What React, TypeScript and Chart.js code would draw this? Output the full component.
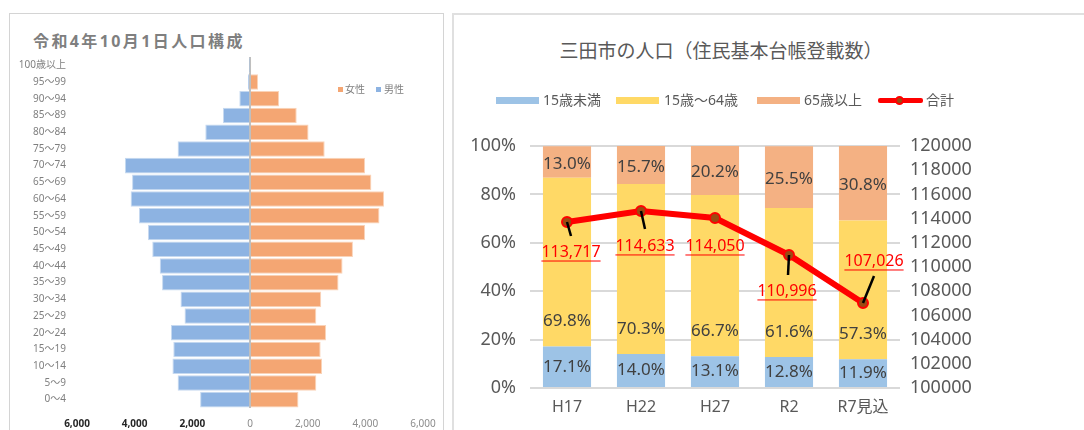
import React, { useEffect, useRef } from 'react';
import { Chart, registerables } from 'chart.js';

Chart.register(...registerables);

const FONT = '"Noto Sans", "Noto Sans CJK JP", sans-serif';

// ---------- Left: population pyramid ----------
const ageGroups = ['100歳以上', '95～99', '90～94', '85～89', '80～84', '75～79', '70～74', '65～69', '60～64', '55～59', '50～54', '45～49', '40～44', '35～39', '30～34', '25～29', '20～24', '15～19', '10～14', '5～9', '0～4'];
const male = [10, 70, 370, 940, 1550, 2510, 4340, 4090, 4140, 3850, 3540, 3390, 3130, 3050, 2410, 2270, 2740, 2660, 2690, 2510, 1730];
const female = [40, 280, 1010, 1620, 2030, 2590, 3990, 4210, 4650, 4490, 3990, 3570, 3210, 3070, 2470, 2300, 2640, 2450, 2500, 2300, 1680];
const pyramidMin = -6000;
const pyramidMax = 6000;
const pyramidStep = 2000;

// ---------- Right: population composition ----------
const years = ['H17', 'H22', 'H27', 'R2', 'R7見込'];
const under15 = [17.1, 14.0, 13.1, 12.8, 11.9];
const age15to64 = [69.8, 70.3, 66.7, 61.6, 57.3];
const over65 = [13.0, 15.7, 20.2, 25.5, 30.8];
const totals = [113717, 114633, 114050, 110996, 107026];
const seriesNames = ['15歳未満', '15歳～64歳', '65歳以上', '合計'];
const percentTicks = { min: 0, max: 100, step: 20 };
const totalTicks = { min: 100000, max: 120000, step: 2000 };

// label placement (pixel offsets from the point), styling only
const totalLabelOffsets = [[4, 30], [4, 35], [0, 28], [-2, 36], [11, -42]];
const leaderEnds: (number[] | null)[] = [[4, 14], [4, 18], null, [-1, 20], [11, -27]];

const COLORS = {
  male: '#8DB3E2',
  maleBorder: '#C6D9F0',
  female: '#F4A673',
  femaleBorder: '#FAD3B8',
  blue: '#9DC3E6',
  yellow: '#FFD966',
  orange: '#F4B183',
  red: '#FF0000',
  marker: '#9C4A12',
};

function Pyramid() {
  const ref = useRef<HTMLCanvasElement>(null);
  useEffect(() => {
    const chart = new Chart(ref.current!, {
      type: 'bar',
      data: {
        labels: ageGroups,
        datasets: [
          {
            label: '男性',
            data: male.map((v) => -v),
            backgroundColor: COLORS.male,
            borderColor: COLORS.maleBorder,
            borderWidth: 1,
            barPercentage: 0.93,
            categoryPercentage: 1,
          },
          {
            label: '女性',
            data: female,
            backgroundColor: COLORS.female,
            borderColor: COLORS.femaleBorder,
            borderWidth: 1,
            barPercentage: 0.93,
            categoryPercentage: 1,
          },
        ],
      },
      options: {
        indexAxis: 'y',
        animation: false,
        responsive: false,
        maintainAspectRatio: false,
        layout: { padding: { left: 0, right: 22, top: 57, bottom: 0 } },
        plugins: { legend: { display: false }, tooltip: { enabled: false } },
        scales: {
          x: {
            stacked: true,
            min: pyramidMin,
            max: pyramidMax,
            z: 1,
            ticks: {
              stepSize: pyramidStep,
              autoSkip: false,
              maxRotation: 0,
              padding: 10,
              callback: (v: any) => Math.abs(Number(v)).toLocaleString('en-US'),
              color: (ctx: any) => (ctx.tick && ctx.tick.value < 0 ? '#262626' : '#8C8C8C'),
              font: (ctx: any) => ({ family: FONT, size: 10, weight: ctx.tick && ctx.tick.value < 0 ? 'bold' : 'normal' }),
            },
            grid: {
              color: (ctx: any) => (ctx.tick && ctx.tick.value === 0 ? '#BFBFBF' : 'rgba(0,0,0,0)'),
              lineWidth: 2,
              drawTicks: false,
            },
            border: { display: false },
            afterFit: (s: any) => {
              s.height = 22;
              s.paddingLeft = 0;
              s.paddingRight = 0;
            },
          },
          y: {
            stacked: true,
            ticks: { color: '#7F7F7F', font: { family: FONT, size: 10 }, padding: 11, autoSkip: false },
            grid: { display: false, drawTicks: false },
            border: { display: false },
            afterFit: (s: any) => {
              s.width = 77;
              s.paddingTop = 0;
              s.paddingBottom = 0;
            },
          },
        },
      } as any,
    });
    return () => chart.destroy();
  }, []);
  return <canvas ref={ref} width={445} height={430} style={{ position: 'absolute', left: 0, top: 0, display: 'block' }} />;
}

const labelPlugin = {
  id: 'customLabels',
  afterDatasetsDraw(chart: any) {
    const ctx = chart.ctx as CanvasRenderingContext2D;
    const series = [under15, age15to64, over65];
    ctx.save();
    ctx.textAlign = 'center';
    ctx.textBaseline = 'middle';
    ctx.font = `17px ${FONT}`;
    ctx.fillStyle = '#404040';
    for (let d = 0; d < 3; d++) {
      const meta = chart.getDatasetMeta(d);
      meta.data.forEach((bar: any, i: number) => {
        const p = bar.getProps(['x', 'y', 'base'], true);
        let cy = (p.y + p.base) / 2;
        if (d === 1) cy = p.base - 25;
        if (d === 2) cy += 2;
        ctx.fillText(series[d][i].toFixed(1) + '%', p.x, cy);
      });
    }
    const lineMeta = chart.getDatasetMeta(3);
    lineMeta.data.forEach((pt: any, i: number) => {
      const { x, y } = pt.getProps(['x', 'y'], true);
      const le = leaderEnds[i];
      if (le) {
        ctx.strokeStyle = '#000000';
        ctx.lineWidth = 2.5;
        ctx.beginPath();
        ctx.moveTo(x, y);
        ctx.lineTo(x + le[0], y + le[1]);
        ctx.stroke();
      }
      const [dx, dy] = totalLabelOffsets[i];
      const lx = x + dx;
      const ly = y + dy;
      const text = totals[i].toLocaleString('en-US');
      ctx.font = `16px ${FONT}`;
      ctx.fillStyle = COLORS.red;
      ctx.fillText(text, lx, ly);
      const w = ctx.measureText(text).width;
      ctx.strokeStyle = COLORS.red;
      ctx.lineWidth = 1;
      ctx.beginPath();
      ctx.moveTo(lx - w / 2, ly + 9);
      ctx.lineTo(lx + w / 2, ly + 9);
      ctx.stroke();
    });
    ctx.restore();
  },
};

function Composition() {
  const ref = useRef<HTMLCanvasElement>(null);
  useEffect(() => {
    const chart = new Chart(ref.current!, {
      data: {
        labels: years,
        datasets: [
          { type: 'bar', label: seriesNames[0], data: under15, backgroundColor: COLORS.blue, order: 1, yAxisID: 'y', categoryPercentage: 0.65, barPercentage: 1 },
          { type: 'bar', label: seriesNames[1], data: age15to64, backgroundColor: COLORS.yellow, order: 1, yAxisID: 'y', categoryPercentage: 0.65, barPercentage: 1 },
          { type: 'bar', label: seriesNames[2], data: over65, backgroundColor: COLORS.orange, order: 1, yAxisID: 'y', categoryPercentage: 0.65, barPercentage: 1 },
          {
            type: 'line',
            label: seriesNames[3],
            data: totals,
            yAxisID: 'y1',
            order: 0,
            borderColor: COLORS.red,
            borderWidth: 6,
            pointRadius: 5,
            pointBorderWidth: 2,
            pointBackgroundColor: COLORS.marker,
            pointBorderColor: COLORS.red,
            tension: 0,
          },
        ],
      } as any,
      options: {
        animation: false,
        responsive: false,
        maintainAspectRatio: false,
        layout: { padding: { left: 0, right: 0, top: 132, bottom: 0 } },
        plugins: { legend: { display: false }, tooltip: { enabled: false } },
        scales: {
          x: {
            stacked: true,
            grid: { display: false, drawTicks: false },
            border: { display: false },
            ticks: { color: '#595959', font: { family: FONT, size: 16 }, padding: 10 },
            afterFit: (s: any) => {
              s.height = 42;
              s.paddingLeft = 0;
              s.paddingRight = 0;
            },
          },
          y: {
            stacked: true,
            position: 'left',
            min: percentTicks.min,
            max: percentTicks.max,
            ticks: { stepSize: percentTicks.step, autoSkip: false, callback: (v: any) => v + '%', color: '#595959', font: { family: FONT, size: 18 }, padding: 14 },
            grid: { color: '#D9D9D9', lineWidth: 2, drawTicks: false },
            border: { display: false },
            afterFit: (s: any) => {
              s.width = 77;
              s.paddingTop = 0;
              s.paddingBottom = 0;
            },
          },
          y1: {
            position: 'right',
            min: totalTicks.min,
            max: totalTicks.max,
            ticks: { stepSize: totalTicks.step, autoSkip: false, callback: (v: any) => String(v), color: '#595959', font: { family: FONT, size: 18 }, padding: 10 },
            grid: { display: false, drawTicks: false },
            border: { display: false },
            afterFit: (s: any) => {
              s.width = 184;
              s.paddingTop = 0;
              s.paddingBottom = 0;
            },
          },
        },
      } as any,
      plugins: [labelPlugin],
    });
    return () => chart.destroy();
  }, []);
  return <canvas ref={ref} width={631} height={416} style={{ position: 'absolute', left: 453, top: 14, display: 'block' }} />;
}

const legendText: React.CSSProperties = {
  position: 'absolute',
  fontFamily: FONT,
  fontSize: 14,
  color: '#595959',
  lineHeight: '16px',
  top: 92,
  whiteSpace: 'nowrap',
};

export default function App() {
  return (
    <div style={{ position: 'fixed', left: 0, top: 0, width: 1084, height: 430, overflow: 'hidden', background: '#fff' }}>
      {/* Left panel */}
      <div style={{ position: 'absolute', left: 9, top: 13, width: 435, height: 440, border: '1px solid #D4D4D4', boxSizing: 'border-box' }} />
      <div style={{ position: 'absolute', left: 33, top: 31, fontFamily: FONT, fontSize: 16, fontWeight: 'bold', color: '#7F7F7F', letterSpacing: '2.4px', whiteSpace: 'nowrap', lineHeight: '20px' }}>
        令和4年10月1日人口構成
      </div>
      <Pyramid />
      <div style={{ position: 'absolute', left: 338, top: 87, width: 5, height: 5, background: COLORS.female }} />
      <div style={{ position: 'absolute', left: 345, top: 82, fontFamily: FONT, fontSize: 10, color: '#7F7F7F', lineHeight: '14px', whiteSpace: 'nowrap' }}>女性</div>
      <div style={{ position: 'absolute', left: 376, top: 87, width: 5, height: 5, background: COLORS.male }} />
      <div style={{ position: 'absolute', left: 384, top: 82, fontFamily: FONT, fontSize: 10, color: '#7F7F7F', lineHeight: '14px', whiteSpace: 'nowrap' }}>男性</div>

      {/* Right panel */}
      <div style={{ position: 'absolute', left: 452, top: 13, width: 660, height: 440, border: '2px solid #E0E0E0', boxSizing: 'border-box' }} />
      <div style={{ position: 'absolute', left: 453, width: 536, top: 38, textAlign: 'center', fontFamily: FONT, fontSize: 19, color: '#595959', lineHeight: '26px', whiteSpace: 'nowrap' }}>
        三田市の人口（住民基本台帳登載数）
      </div>
      <Composition />
      {/* legend */}
      <div style={{ position: 'absolute', left: 496, top: 97, width: 43, height: 7, background: COLORS.blue }} />
      <div style={{ ...legendText, left: 543 }}>{seriesNames[0]}</div>
      <div style={{ position: 'absolute', left: 616, top: 97, width: 43, height: 7, background: COLORS.yellow }} />
      <div style={{ ...legendText, left: 664 }}>{seriesNames[1]}</div>
      <div style={{ position: 'absolute', left: 757, top: 97, width: 43, height: 7, background: COLORS.orange }} />
      <div style={{ ...legendText, left: 804 }}>{seriesNames[2]}</div>
      <div style={{ position: 'absolute', left: 878, top: 98, width: 45, height: 5, background: COLORS.red, borderRadius: 2 }} />
      <div style={{ position: 'absolute', left: 895, top: 96, width: 9, height: 9, borderRadius: '50%', background: COLORS.marker, border: '2px solid ' + COLORS.red, boxSizing: 'border-box' }} />
      <div style={{ ...legendText, left: 926 }}>{seriesNames[3]}</div>
    </div>
  );
}
